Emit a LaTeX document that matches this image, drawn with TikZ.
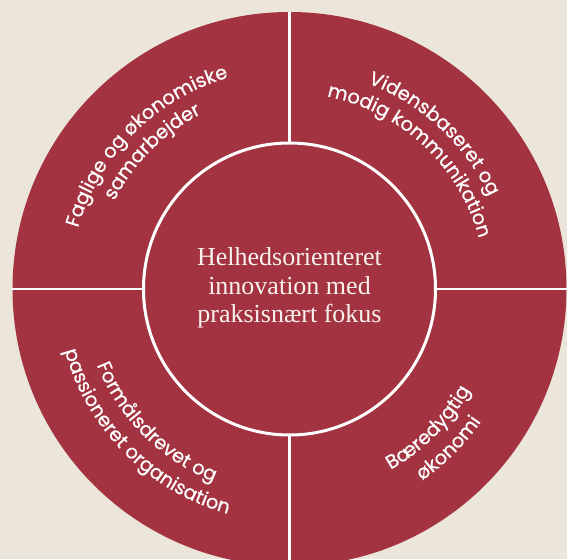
\documentclass[tikz,border=0pt]{standalone}
\usepackage{fontspec}
\newfontfamily\qfam{Poppins}[FakeBold=0.5]
\newfontfamily\cfam{Liberation Serif}
\usetikzlibrary{decorations.text}
\definecolor{bg}{RGB}{236,230,218}
\definecolor{wine}{RGB}{163,51,64}
\definecolor{cream}{RGB}{248,242,238}
\newcommand{\qfont}{\qfam\fontsize{19.3}{21}\selectfont}
\begin{document}
\begin{tikzpicture}[x=1pt,y=1pt,
  divider/.style={white, line width=2.6pt},
  ringline/.style={white, line width=3pt}]
\useasboundingbox (-289.5,-270) rectangle (277.5,289);
\clip (-289.5,-270) rectangle (277.5,289);
\fill[bg] (-289.5,-270) rectangle (277.5,289);
\coordinate (O) at (0,0);
\fill[wine] (O) circle[radius=277pt];
% dividers
\coordinate (nI) at (90:146pt);  \coordinate (nO) at (90:277pt);
\coordinate (sI) at (270:146pt); \coordinate (sO) at (270:277pt);
\coordinate (wI) at (180:146pt); \coordinate (wO) at (180:277pt);
\coordinate (eI) at (0:146pt);   \coordinate (eO) at (0:277pt);
\draw[divider] (nI) -- (nO);
\draw[divider] (sI) -- (sO);
\draw[divider] (wI) -- (wO);
\draw[divider] (eI) -- (eO);
\draw[ringline] (O) circle[radius=146pt];
% top-left
\path[decorate, decoration={text along path, text align=center, text color=white,
  text={|\qfont|Faglige og økonomiske}}]
  (180:220pt) arc[start angle=180, end angle=90, radius=220pt];
\path[decorate, decoration={text along path, text align=center, text color=white,
  text={|\qfont|samarbejder}}]
  (180:196pt) arc[start angle=180, end angle=90, radius=196pt];
% top-right
\path[decorate, decoration={text along path, text align=center, text color=white,
  text={|\qfont|Vidensbaseret og}}]
  (92:220pt) arc[start angle=92, end angle=2, radius=220pt];
\path[decorate, decoration={text along path, text align=center, text color=white,
  text={|\qfont|modig kommunikation}}]
  (92:196pt) arc[start angle=92, end angle=2, radius=196pt];
% bottom-right
\path[decorate, decoration={text along path, text align=center, text color=white,
  text={|\qfont|Bæredygtig}}]
  (-90:207pt) arc[start angle=-90, end angle=0, radius=207pt];
\path[decorate, decoration={text along path, text align=center, text color=white,
  text={|\qfont|økonomi}}]
  (-90:233pt) arc[start angle=-90, end angle=0, radius=233pt];
% bottom-left
\path[decorate, decoration={text along path, text align=center, text color=white,
  text={|\qfont|Formålsdrevet og}}]
  (180:207pt) arc[start angle=180, end angle=270, radius=207pt];
\path[decorate, decoration={text along path, text align=center, text color=white,
  text={|\qfont|passioneret organisation}}]
  (180:233pt) arc[start angle=180, end angle=270, radius=233pt];
% centre
\node[align=center, text=cream, font=\cfam\fontsize{26}{28.5}\selectfont] (ctr) at (0,1)
  {Helhedsorienteret\\innovation med\\praksisnært fokus};
\end{tikzpicture}
\end{document}
